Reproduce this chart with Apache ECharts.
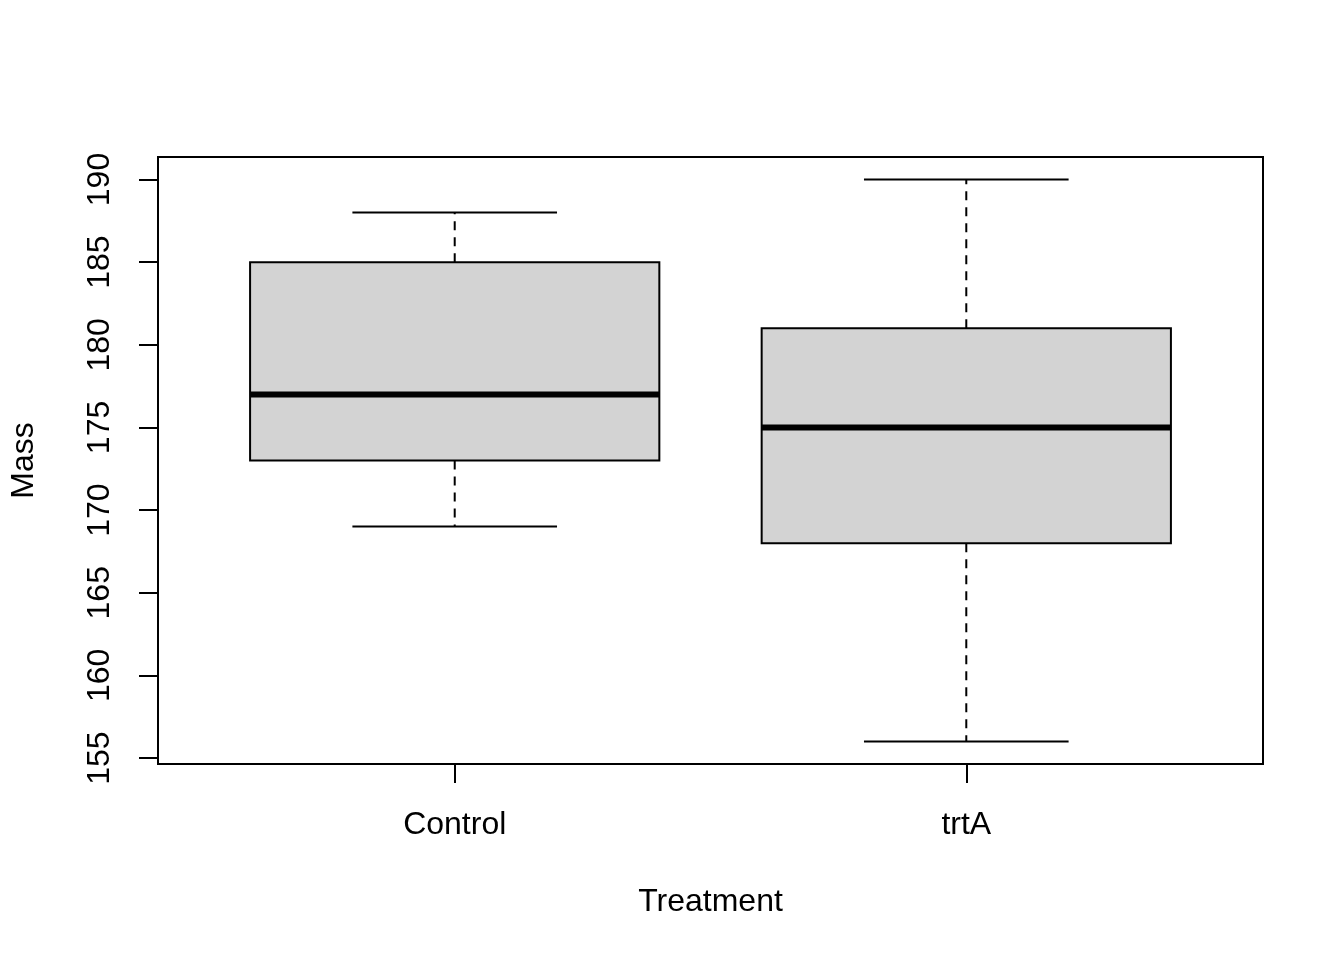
<!DOCTYPE html>
<html lang="en">
  <head>
    <meta charset="UTF-8" />
    <title>Mass by Treatment</title>
    <script src="https://cdn.jsdelivr.net/npm/echarts@6.0.0/dist/echarts.min.js"></script>
    <style>
      html, body { margin: 0; padding: 0; background: #fff; }
    </style>
  </head>
  <body>
    <div id="main" style="width: 1344px; height: 960px"></div>
    <script type="text/javascript">
      // boxplot stats
      var groups = ["Control", "trtA"];
      var positions = [1, 2];
      var whiskerLow = [169, 156];
      var q1 = [173, 168];
      var median = [177, 175];
      var q3 = [185, 181];
      var whiskerHigh = [188, 190];
      var yTicks = [155, 160, 165, 170, 175, 180, 185, 190];

      var boxData = groups.map(function (g, i) {
        return [positions[i], whiskerLow[i], q1[i], median[i], q3[i], whiskerHigh[i]];
      });

      var font = "'Liberation Sans', Arial, sans-serif";
      var myChart = echarts.init(document.getElementById("main"));

      function renderBox(params, api) {
        var x = api.value(0);
        var lo = api.value(1), b1 = api.value(2), md = api.value(3), b3 = api.value(4), hi = api.value(5);
        var boxHalf = 0.4, capHalf = 0.2;
        var tl = api.coord([x - boxHalf, b3]);
        var br = api.coord([x + boxHalf, b1]);
        var cx = api.coord([x, md])[0];
        var pLo = api.coord([x, lo])[1];
        var pHi = api.coord([x, hi])[1];
        var pMd = api.coord([x, md])[1];
        var capL = api.coord([x - capHalf, lo])[0];
        var capR = api.coord([x + capHalf, lo])[0];
        var dash = { stroke: "#000", lineWidth: 2, lineDash: [9, 7] };
        var solid = { stroke: "#000", lineWidth: 2 };
        return {
          type: "group",
          children: [
            { type: "line", shape: { x1: cx, y1: tl[1], x2: cx, y2: pHi }, style: dash },
            { type: "line", shape: { x1: cx, y1: br[1], x2: cx, y2: pLo }, style: dash },
            { type: "line", shape: { x1: capL, y1: pHi, x2: capR, y2: pHi }, style: solid },
            { type: "line", shape: { x1: capL, y1: pLo, x2: capR, y2: pLo }, style: solid },
            {
              type: "rect",
              shape: { x: tl[0], y: tl[1], width: br[0] - tl[0], height: br[1] - tl[1] },
              style: { fill: "#D3D3D3", stroke: "#000", lineWidth: 2 }
            },
            { type: "line", shape: { x1: tl[0], y1: pMd, x2: br[0], y2: pMd }, style: { stroke: "#000", lineWidth: 6 } }
          ]
        };
      }

      var option = {
        animation: false,
        backgroundColor: "#fff",
        grid: {
          left: 157, right: 81, top: 157, bottom: 196,
          show: true, borderColor: "#000", borderWidth: 2, backgroundColor: "transparent"
        },
        xAxis: {
          type: "value",
          min: 0.42,
          max: 2.58,
          name: "Treatment",
          nameLocation: "middle",
          nameGap: 122,
          nameTextStyle: { color: "#000", fontSize: 32, fontFamily: font },
          axisLine: { show: false },
          splitLine: { show: false },
          axisTick: { show: true, length: 19, customValues: positions, lineStyle: { color: "#000", width: 2 } },
          axisLabel: {
            customValues: positions,
            margin: 45,
            color: "#000",
            fontSize: 32,
            fontFamily: font,
            formatter: function (v) { return groups[positions.indexOf(v)]; }
          }
        },
        yAxis: {
          type: "value",
          min: 154.64,
          max: 191.36,
          name: "Mass",
          nameLocation: "middle",
          nameGap: 118,
          nameRotate: 90,
          nameTextStyle: { color: "#000", fontSize: 32, fontFamily: font },
          axisLine: { show: false },
          splitLine: { show: false },
          axisTick: { show: true, length: 19, customValues: yTicks, lineStyle: { color: "#000", width: 2 } },
          axisLabel: {
            customValues: yTicks,
            rotate: 90,
            margin: 42,
            color: "#000",
            fontSize: 32,
            fontFamily: font
          }
        },
        series: [
          {
            type: "custom",
            renderItem: renderBox,
            encode: { x: 0, y: [1, 2, 3, 4, 5] },
            data: boxData
          }
        ]
      };

      myChart.setOption(option);
    </script>
  </body>
</html>
